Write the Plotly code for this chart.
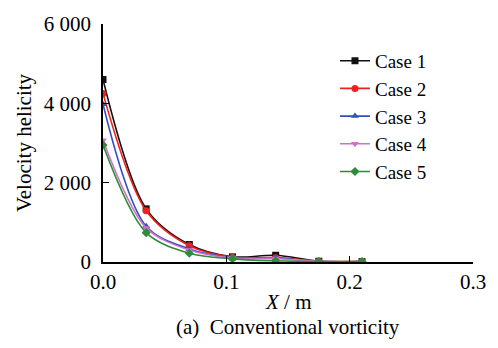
import plotly.graph_objects as go

x_vals = [0, 0.035, 0.07, 0.105, 0.14, 0.175, 0.21]
case1 = [4600, 1340, 440, 130, 170, 20, 10]
case2 = [4250, 1290, 410, 120, 110, 20, 10]
case3 = [3980, 900, 330, 110, 100, 15, 10]
case4 = [3070, 860, 300, 100, 90, 15, 10]
case5 = [2950, 740, 220, 80, 30, 10, 10]
names = ["Case 1", "Case 2", "Case 3", "Case 4", "Case 5"]
colors = ["#111111", "#f02020", "#3050c0", "#d070c8", "#2e8b3a"]
symbols = ["square", "circle", "triangle-up", "triangle-down", "diamond"]
ytick_vals = [0, 2000, 4000, 6000]
ytick_text = ["0", "2 000", "4 000", "6 000"]
xtick_vals = [0, 0.1, 0.2, 0.3]
xtick_text = ["0.0", "0.1", "0.2", "0.3"]

font_family = "Liberation Serif, Times New Roman, serif"

fig = go.Figure()
for name, ys, c, s in zip(names, [case1, case2, case3, case4, case5], colors, symbols):
    fig.add_trace(go.Scatter(
        x=x_vals, y=ys, name=name, mode="lines+markers",
        line=dict(color=c, width=1.6, shape="spline", smoothing=0.9),
        marker=dict(symbol=s, size=7, color=c),
    ))

fig.update_layout(
    width=498, height=348,
    margin=dict(l=103, r=19, t=18, b=86),
    paper_bgcolor="white", plot_bgcolor="white",
    font=dict(family=font_family, size=21, color="black"),
    showlegend=True,
    legend=dict(x=0.627, y=0.925, xanchor="left", yanchor="top",
                font=dict(size=19), bgcolor="rgba(0,0,0,0)",
                tracegroupgap=0, itemwidth=30),
    xaxis=dict(range=[0, 0.3], tickvals=xtick_vals, ticktext=xtick_text,
               showline=True, linecolor="black", linewidth=1.5,
               ticks="inside", ticklen=6, tickwidth=1.2, tickcolor="black",
               showgrid=False, zeroline=False, mirror=False,
               tickfont=dict(size=21)),
    yaxis=dict(range=[0, 6000], tickvals=ytick_vals, ticktext=ytick_text,
               showline=True, linecolor="black", linewidth=1.5,
               ticks="inside", ticklen=6, tickwidth=1.2, tickcolor="black",
               showgrid=False, zeroline=False, mirror=False,
               tickfont=dict(size=21), ticklabelstandoff=6,
               title=dict(text="Velocity helicity", standoff=6, font=dict(size=21))),
    annotations=[
        dict(text="<i>X</i> / m", xref="paper", yref="paper", x=0.5, y=-0.168,
             xanchor="center", yanchor="middle", showarrow=False, font=dict(size=21)),
        dict(text="(a)  Conventional vorticity", xref="paper", yref="paper", x=0.5, y=-0.275,
             xanchor="center", yanchor="middle", showarrow=False, font=dict(size=21)),
    ],
)

fig.write_html("out.html")
